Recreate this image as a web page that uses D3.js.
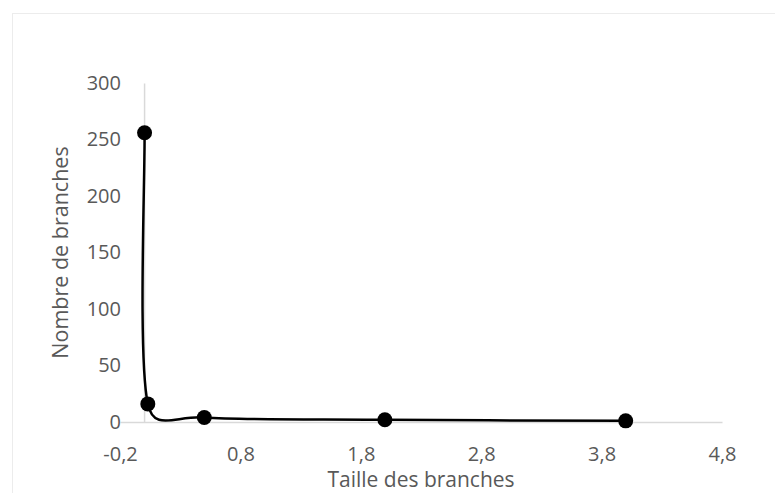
<!DOCTYPE html>
<html>
<head>
<meta charset="utf-8">
<script src="https://cdn.jsdelivr.net/npm/d3@7"></script>
<style>
  body { margin: 0; background: #fff; }
  text { font-family: "Open Sans", sans-serif; fill: #595959; }
</style>
</head>
<body>
<div class="chart"></div>
<script>
// values
const tailles = [0.004, 0.031, 0.5, 2, 4];
const nombres = [256, 16, 4, 2, 1];
const xTicks = [-0.2, 0.8, 1.8, 2.8, 3.8, 4.8];
const yTicks = [0, 50, 100, 150, 200, 250, 300];

const W = 775, H = 493;

const svg = d3.select('.chart').append('svg')
  .attr('width', W)
  .attr('height', H);

// outer chart frame
svg.append('rect')
  .attr('x', 12.5).attr('y', 13.5)
  .attr('width', W).attr('height', H)
  .attr('fill', 'none')
  .attr('stroke', '#ececec');

const x = d3.scaleLinear().domain([-0.2, 4.8]).range([120, 722]);
const y = d3.scaleLinear().domain([0, 300]).range([422, 83]);

const fmt = d => d3.format('.1f')(d).replace('.', ',').replace('\u2212', '-');

// x axis at y = 0
const xAxis = svg.append('g')
  .attr('transform', `translate(0,${y(0)})`)
  .call(d3.axisBottom(x).tickValues(xTicks).tickFormat(fmt).tickSize(0).tickPadding(25));
xAxis.select('.domain').attr('stroke', '#d9d9d9').attr('stroke-width', 1.5);
xAxis.selectAll('text').style('font-size', '20px').attr('fill', '#595959');

// y axis at x = 0
const yAxis = svg.append('g')
  .attr('transform', `translate(${x(0)},0)`)
  .call(d3.axisLeft(y).tickValues(yTicks).tickSize(0).tickPadding(0));
yAxis.select('.domain').attr('stroke', '#d9d9d9').attr('stroke-width', 1.5);
yAxis.selectAll('text')
  .attr('x', 121 - x(0))
  .style('font-size', '20px').attr('fill', '#595959');

svg.append('text')
  .attr('x', (x.range()[0] + x.range()[1]) / 2)
  .attr('y', 487)
  .attr('text-anchor', 'middle')
  .style('font-size', '21px')
  .text('Taille des branches');

svg.append('text')
  .attr('transform', `translate(68,${(y.range()[0] + y.range()[1]) / 2}) rotate(-90)`)
  .attr('text-anchor', 'middle')
  .style('font-size', '21.5px')
  .text('Nombre de branches');

// smoothing like a spreadsheet "smoothed line": bezier with 1/6 tangents, limited on short segments
function excelSmooth(context) {
  let pts;
  return {
    areaStart() {}, areaEnd() {},
    lineStart() { pts = []; },
    point(px, py) { pts.push([px, py]); },
    lineEnd() {
      const n = pts.length;
      if (!n) return;
      const dist = (a, b) => Math.hypot(b[0] - a[0], b[1] - a[1]);
      context.moveTo(pts[0][0], pts[0][1]);
      for (let i = 0; i < n - 1; i++) {
        const p0 = pts[Math.max(i - 1, 0)], p1 = pts[i], p2 = pts[i + 1], p3 = pts[Math.min(i + 2, n - 1)];
        const d12 = dist(p1, p2), d02 = dist(p0, p2), d13 = dist(p1, p3);
        let f0 = 1 / 6, f1 = 1 / 6;
        if (d02 / 6 >= d12 / 2) f0 = d12 / d02 / 2;
        if (d13 / 6 >= d12 / 2) f1 = d12 / d13 / 2;
        context.bezierCurveTo(
          p1[0] + (p2[0] - p0[0]) * f0, p1[1] + (p2[1] - p0[1]) * f0,
          p2[0] - (p3[0] - p1[0]) * f1, p2[1] - (p3[1] - p1[1]) * f1,
          p2[0], p2[1]);
      }
    }
  };
}

const pts = tailles.map((t, i) => ({t: t, n: nombres[i]}));

const line = d3.line()
  .x(d => x(d.t))
  .y(d => y(d.n))
  .curve(excelSmooth);

svg.append('path')
  .datum(pts)
  .attr('fill', 'none')
  .attr('stroke', '#000')
  .attr('stroke-width', 2.5)
  .attr('d', line);

svg.selectAll('.pt')
  .data(pts)
  .enter().append('circle')
    .attr('class', 'pt')
    .attr('cx', d => x(d.t))
    .attr('cy', d => y(d.n))
    .attr('r', 7.5)
    .attr('fill', '#000');
</script>
</body>
</html>
